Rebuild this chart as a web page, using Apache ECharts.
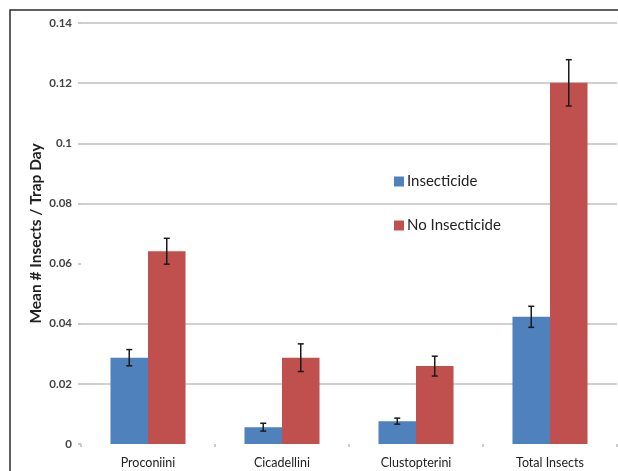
<!DOCTYPE html>
<html>
<head>
<meta charset="utf-8">
<script src="https://cdn.jsdelivr.net/npm/echarts@6/dist/echarts.min.js"></script>
<style>
html,body{margin:0;padding:0;background:#fff;}
#chart{width:618px;height:471px;}
</style>
</head>
<body>
<div id="chart"></div>
<script>
const categories = ['Proconiini', 'Cicadellini', 'Clustopterini', 'Total Insects'];
const insecticide = [0.0287, 0.0056, 0.0076, 0.0423];
const insecticideErr = [0.0027, 0.0013, 0.0010, 0.0035];
const noInsecticide = [0.0641, 0.0287, 0.0259, 0.1201];
const noInsecticideErr = [0.0043, 0.0046, 0.0033, 0.0077];
const seriesNames = ['Insecticide', 'No Insecticide'];
const colors = ['#4F81BD', '#C0504D'];

const BAR_FRAC = 0.28;
const chart = echarts.init(document.getElementById('chart'), null, {renderer: 'canvas'});

function errorSeries(values, errs, side) {
  return {
    type: 'custom',
    z: 5,
    silent: true,
    data: values.map((v, i) => [i, v, errs[i]]),
    renderItem: function (params, api) {
      const idx = api.value(0);
      const v = api.value(1);
      const e = api.value(2);
      const band = api.size([1, 0])[0];
      const off = side * band * BAR_FRAC / 2;
      const top = api.coord([idx, v + e]);
      const bot = api.coord([idx, v - e]);
      const x = top[0] + off;
      const cap = 3;
      const style = {stroke: '#1a1a1a', lineWidth: 1.5};
      return {
        type: 'group',
        children: [
          {type: 'line', shape: {x1: x, y1: top[1], x2: x, y2: bot[1]}, style: style},
          {type: 'line', shape: {x1: x - cap, y1: top[1], x2: x + cap, y2: top[1]}, style: style},
          {type: 'line', shape: {x1: x - cap, y1: bot[1], x2: x + cap, y2: bot[1]}, style: style}
        ]
      };
    }
  };
}

const option = {
  animation: false,
  backgroundColor: '#fff',
  textStyle: {fontFamily: 'Lato'},
  graphic: [{
    type: 'rect',
    shape: {x: 10, y: 10, width: 700, height: 600},
    style: {fill: 'none', stroke: '#2b2b2b', lineWidth: 1.5},
    z: 100
  }],
  legend: {
    orient: 'vertical',
    left: 389,
    top: 169,
    itemWidth: 10,
    itemHeight: 10,
    itemGap: 29,
    icon: 'rect',
    data: seriesNames,
    textStyle: {fontFamily: 'Lato', fontSize: 15, color: '#222', padding: [0, 0, 0, -2]}
  },
  grid: {left: 81, right: 1, top: 23, bottom: 27, containLabel: false},
  xAxis: {
    type: 'category',
    data: categories,
    axisLine: {show: false},
    axisTick: {show: true, length: 3, lineStyle: {color: '#bbb', width: 1.5}},
    axisLabel: {fontFamily: 'Lato', fontSize: 12.5, color: '#222', margin: 12}
  },
  yAxis: {
    type: 'value',
    min: 0,
    max: 0.14,
    interval: 0.02,
    name: 'Mean # Insects / Trap Day',
    nameLocation: 'middle',
    nameRotate: 90,
    nameGap: 37,
    nameMoveOverlap: false,
    nameTextStyle: {fontFamily: 'Lato', fontSize: 15.5, fontWeight: 'bold', color: '#222'},
    axisLine: {show: false},
    axisTick: {show: true, length: 3, lineStyle: {color: '#bbb', width: 1.5}},
    axisLabel: {fontFamily: 'Lato', fontSize: 11.5, fontWeight: 'bold', color: '#444', margin: 9},
    splitLine: {
      show: true,
      lineStyle: {
        color: ['rgba(0,0,0,0)', '#c0c0c0', '#c0c0c0', 'rgba(0,0,0,0)', '#c0c0c0', '#c0c0c0', '#c0c0c0', '#c0c0c0'],
        width: 1.5
      }
    }
  },
  series: [
    {
      name: seriesNames[0],
      type: 'bar',
      data: insecticide,
      barWidth: (BAR_FRAC * 100) + '%',
      barGap: '0%',
      itemStyle: {color: colors[0]},
      z: 2
    },
    {
      name: seriesNames[1],
      type: 'bar',
      data: noInsecticide,
      barWidth: (BAR_FRAC * 100) + '%',
      barGap: '0%',
      itemStyle: {color: colors[1]},
      z: 2
    },
    errorSeries(insecticide, insecticideErr, -1),
    errorSeries(noInsecticide, noInsecticideErr, 1)
  ]
};
chart.setOption(option);
</script>
</body>
</html>
